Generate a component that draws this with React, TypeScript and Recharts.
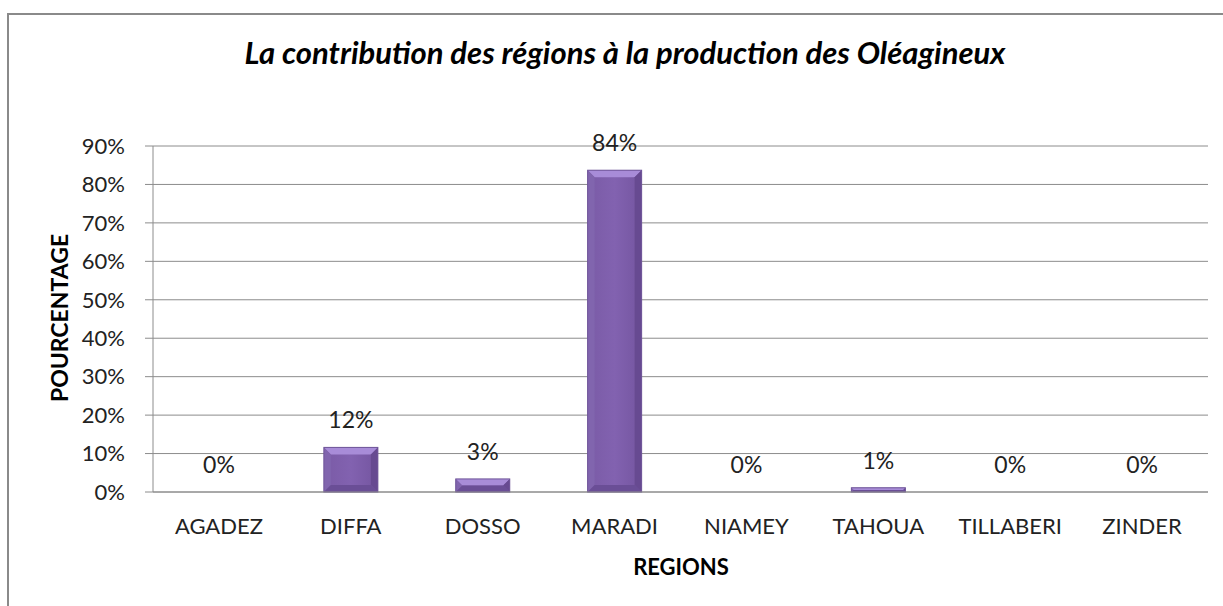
import { BarChart, Bar, XAxis, YAxis, CartesianGrid, LabelList } from "recharts";

const regions = ["AGADEZ", "DIFFA", "DOSSO", "MARADI", "NIAMEY", "TAHOUA", "TILLABERI", "ZINDER"];
const shares = [0, 11.6, 3.4, 83.7, 0, 1.1, 0, 0];
const yTicks = [0, 10, 20, 30, 40, 50, 60, 70, 80, 90];

const data = regions.map((region, i) => ({ region, value: shares[i] }));

const FONT = "Lato, 'Open Sans', sans-serif";
const GRID = "#8c8c8c";

// excel-ish bevelled bar
function BevelBar(props: any) {
  const { x, y, width: w, height: h } = props;
  if (!h || h <= 0) return null;
  const b = Math.min(7, w / 2, h / 2);
  return (
    <g>
      <rect x={x} y={y} width={w} height={h} fill="url(#barFace)" />
      <polygon points={`${x},${y} ${x + w},${y} ${x + w - b},${y + b} ${x + b},${y + b}`} fill="#a88cd8" />
      <polygon points={`${x},${y} ${x + b},${y + b} ${x + b},${y + h - b} ${x},${y + h}`} fill="#8165ae" />
      <polygon points={`${x + w},${y} ${x + w},${y + h} ${x + w - b},${y + h - b} ${x + w - b},${y + b}`} fill="#674a91" />
      <polygon points={`${x},${y + h} ${x + b},${y + h - b} ${x + w - b},${y + h - b} ${x + w},${y + h}`} fill="#6a4e96" />
      <rect x={x} y={y} width={w} height={h} fill="none" stroke="#6f5599" strokeWidth={1} />
    </g>
  );
}

export default function App() {
  return (
    <div style={{ position: "fixed", left: 0, top: 0, width: 1223, height: 606, background: "#fff", overflow: "hidden" }}>
      <div
        style={{
          position: "absolute",
          left: 7,
          top: 13,
          width: 1260,
          height: 640,
          borderTop: "2px solid #8a8a8a",
          borderLeft: "2px solid #8a8a8a",
        }}
      />
      <div style={{ position: "absolute", left: 0, top: 0 }}>
        <BarChart width={1223} height={606} data={data} margin={{ top: 146, right: 15, bottom: 54, left: 93 }}>
          <defs>
            <linearGradient id="barFace" x1="0" y1="0" x2="1" y2="0">
              <stop offset="0%" stopColor="#7a5ba6" />
              <stop offset="50%" stopColor="#8262b0" />
              <stop offset="100%" stopColor="#7455a0" />
            </linearGradient>
          </defs>
          <CartesianGrid vertical={false} stroke={GRID} strokeWidth={1} />
          <XAxis
            dataKey="region"
            height={60}
            tickLine={false}
            tickSize={0}
            tickMargin={26}
            axisLine={{ stroke: GRID }}
            tick={{ fontFamily: FONT, fontSize: 22, fill: "#222" }}
            interval={0}
          />
          <YAxis
            width={60}
            domain={[0, 90]}
            ticks={yTicks}
            tickFormatter={(v: number) => `${v}%`}
            tickSize={8}
            tickMargin={20}
            tickLine={{ stroke: GRID }}
            axisLine={{ stroke: GRID }}
            tick={{ fontFamily: FONT, fontSize: 22, fill: "#222" }}
          />
          <Bar dataKey="value" barSize={54} shape={<BevelBar />} isAnimationActive={false}>
            <LabelList
              dataKey="value"
              position="top"
              offset={19}
              formatter={(v: any) => `${Math.round(Number(v))}%`}
              style={{ fontFamily: FONT, fontSize: 23, fill: "#222" }}
            />
          </Bar>
        </BarChart>
      </div>
      <svg width={1223} height={606} style={{ position: "absolute", left: 0, top: 0, pointerEvents: "none" }}>
        <text x={625} y={64} textAnchor="middle" fontFamily={FONT} fontSize={31} fontStyle="italic" fontWeight="bold" fill="#000">
          La contribution des régions à la production des Oléagineux
        </text>
        <text transform="translate(68,318) rotate(-90)" textAnchor="middle" fontFamily={FONT} fontSize={23} fontWeight="bold" fill="#000">
          POURCENTAGE
        </text>
        <text x={681} y={575} textAnchor="middle" fontFamily={FONT} fontSize={22} fontWeight="bold" fill="#000">
          REGIONS
        </text>
      </svg>
    </div>
  );
}
